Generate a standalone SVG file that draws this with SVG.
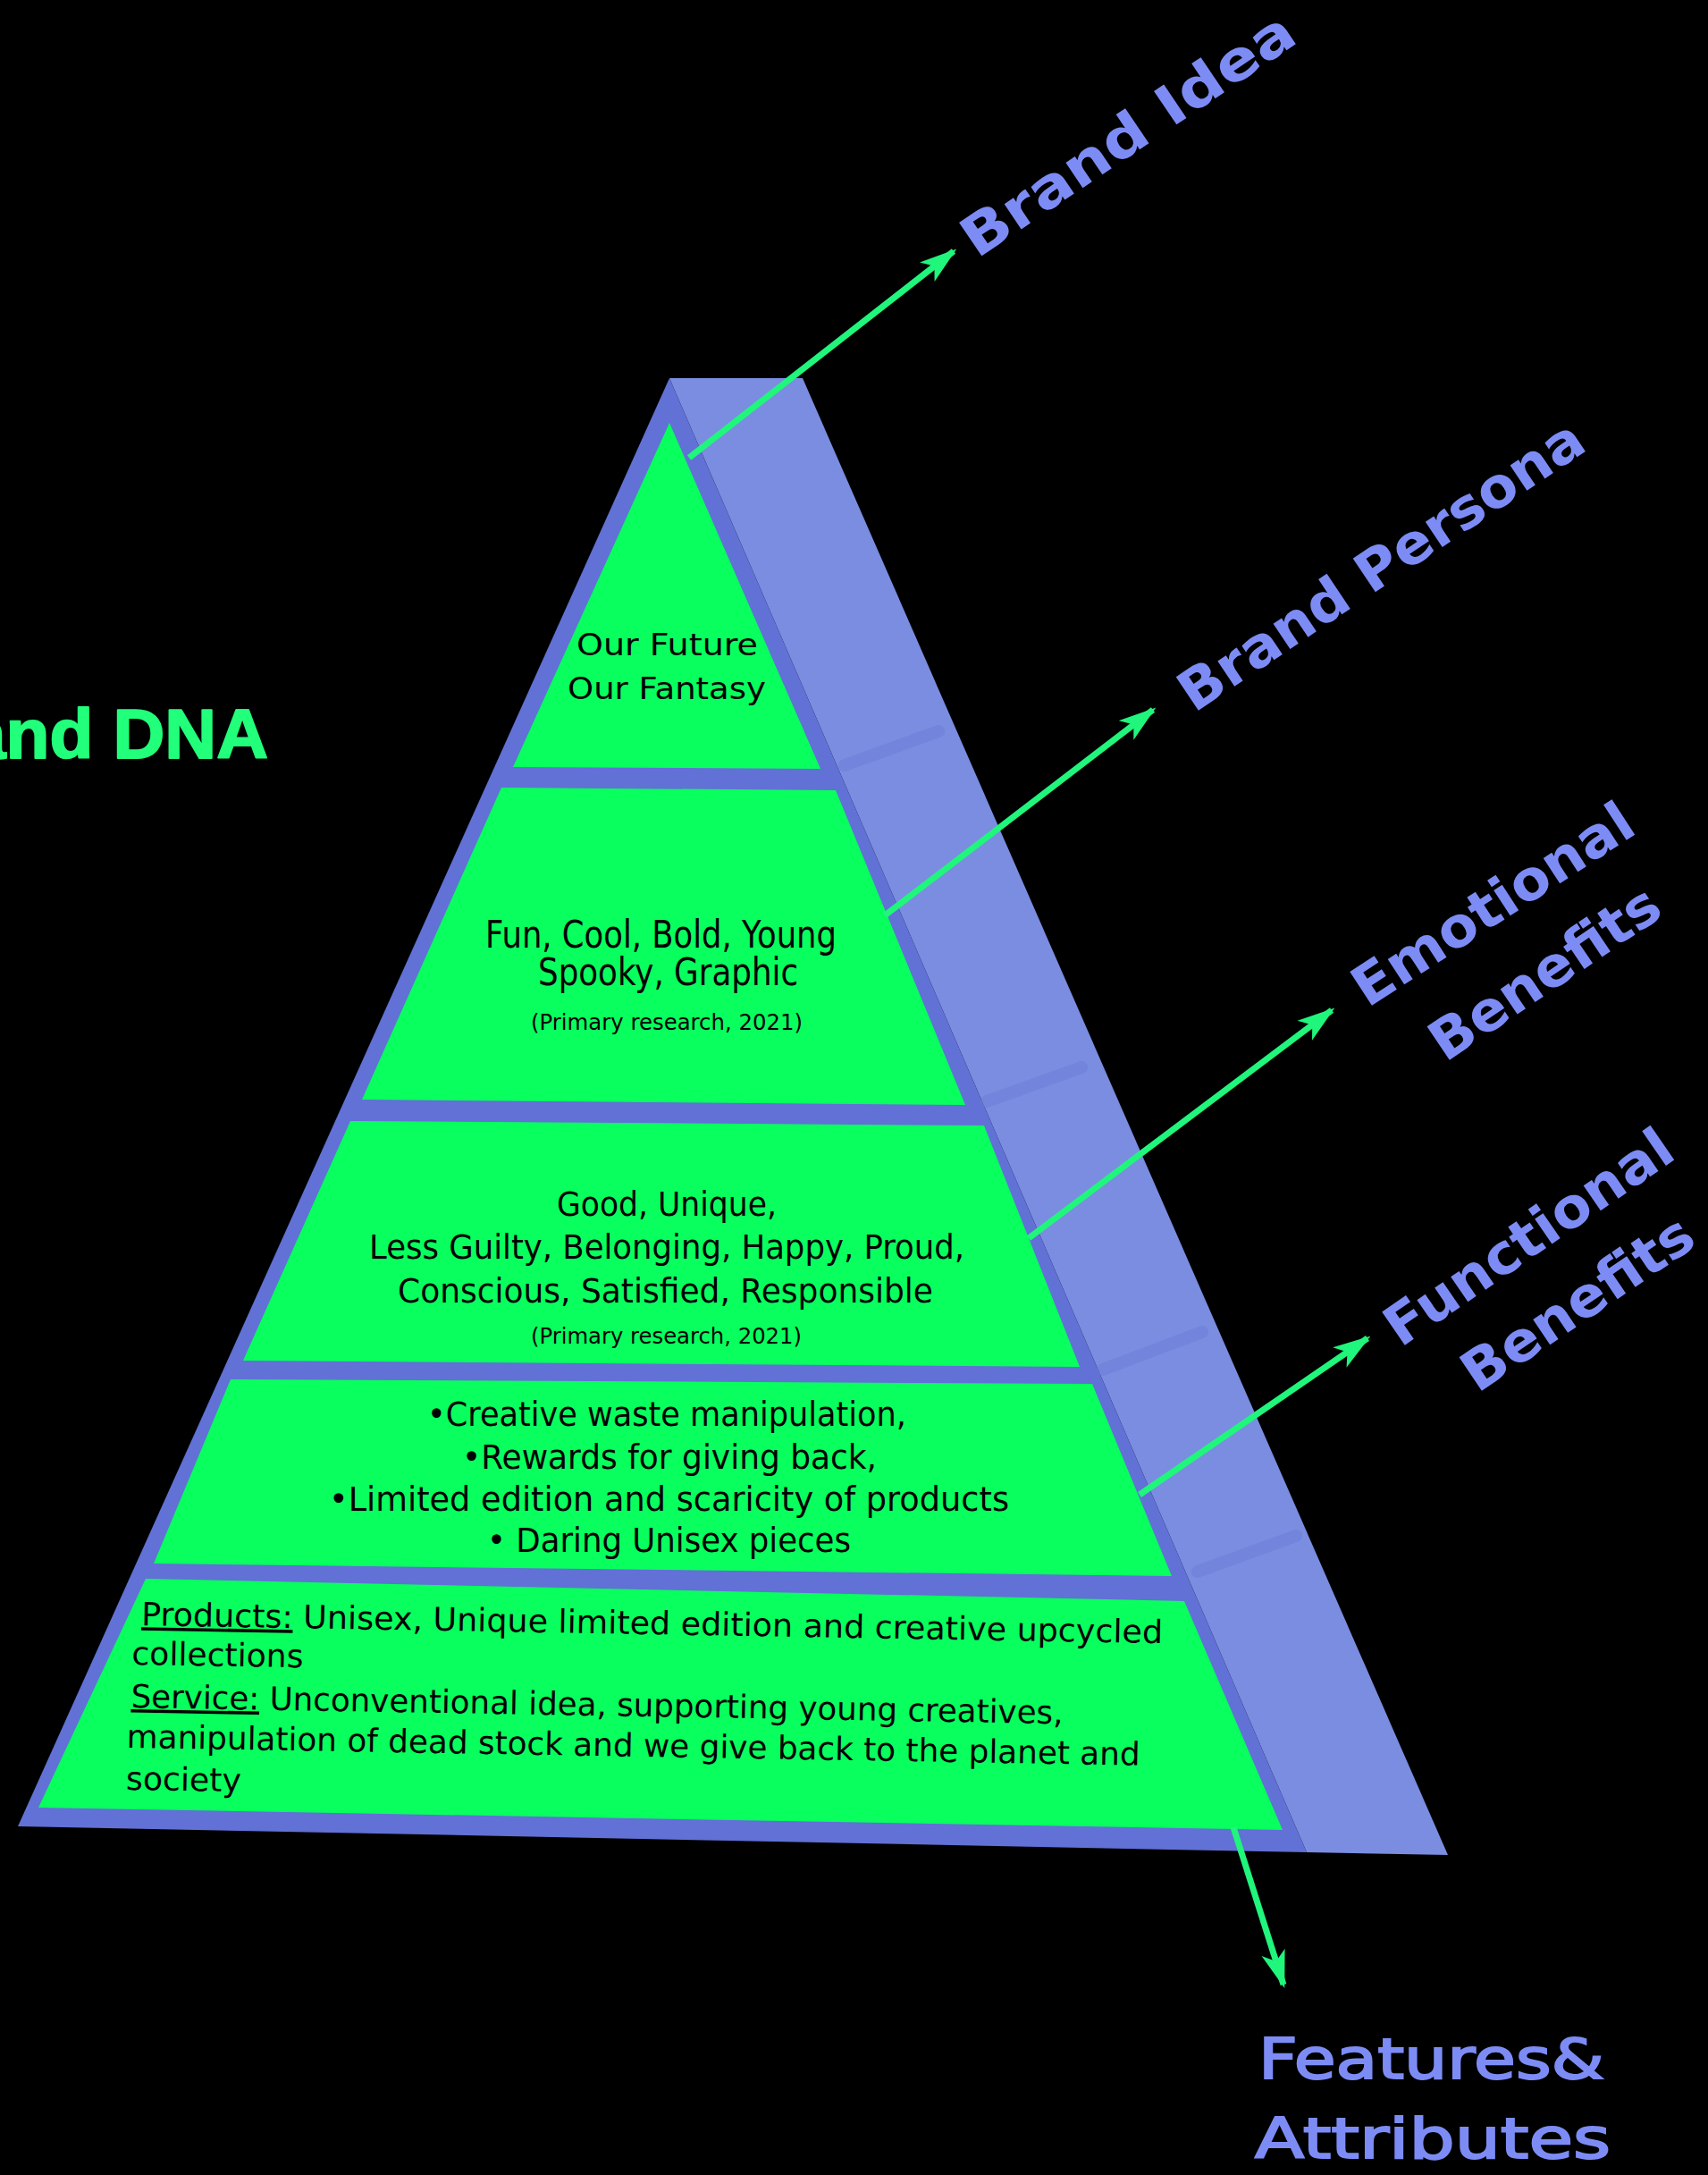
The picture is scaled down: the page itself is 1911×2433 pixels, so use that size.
<svg xmlns="http://www.w3.org/2000/svg" width="1911" height="2433" viewBox="0 0 1911 2433">
<defs>
<style>
.tier{fill:#08FF5E;}
.in{font-family:"DejaVu Sans","Liberation Sans",sans-serif;fill:#000;}
.lbl{font-family:"DejaVu Sans","Liberation Sans",sans-serif;fill:#7D8CF5;font-size:62px;font-weight:bold;}
.con{stroke:#20F57C;stroke-width:7;fill:none;marker-end:url(#ah);}
.bev{stroke:#6A7BD6;stroke-width:14;opacity:0.45;stroke-linecap:round;}
</style>
<marker id="ah" viewBox="0 0 40 26" refX="36" refY="13" markerWidth="42" markerHeight="28" markerUnits="userSpaceOnUse" orient="auto">
<path d="M0,0 L40,13 L0,26 L10,13 Z" fill="#20F57C"/>
</marker>
</defs>
<rect x="0" y="0" width="1911" height="2433" fill="#000"/>

<text id="title" x="-38" y="848" font-family="Liberation Sans,Arial,sans-serif" font-weight="bold" font-size="78" fill="#22FF7A" stroke="#22FF7A" stroke-width="2" stroke-linejoin="round" textLength="338" lengthAdjust="spacingAndGlyphs">and DNA</text>

<g id="pyramid">
<polygon points="749,423 898,423 1620,2075 1462,2072" fill="#7A8DE0"/>
<polygon points="749,423 1462,2072 20,2043" fill="#6171D5"/>
<line class="bev" x1="945" y1="856" x2="1050" y2="818"/>
<line class="bev" x1="1104" y1="1232" x2="1210" y2="1194"/>
<line class="bev" x1="1234" y1="1532" x2="1345" y2="1490"/>
<line class="bev" x1="1340" y1="1758" x2="1450" y2="1718"/>
</g>

<g id="tier1">
<polygon class="tier" points="749,473 918,860 574,858"/>
<text class="in" font-size="34" x="645" y="733" textLength="203" lengthAdjust="spacingAndGlyphs">Our Future</text>
<text class="in" font-size="34" x="635" y="782" textLength="222" lengthAdjust="spacingAndGlyphs">Our Fantasy</text>
</g>

<g id="tier2">
<polygon class="tier" points="561,881 935,884 1080,1236 405,1230"/>
<text class="in" font-size="42" x="543" y="1060" textLength="393" lengthAdjust="spacingAndGlyphs">Fun, Cool, Bold, Young</text>
<text class="in" font-size="42" x="602" y="1102" textLength="291" lengthAdjust="spacingAndGlyphs">Spooky, Graphic</text>
<text class="in" font-size="24" x="594" y="1152" textLength="304" lengthAdjust="spacingAndGlyphs">(Primary research, 2021)</text>
</g>

<g id="tier3">
<polygon class="tier" points="392,1254 1101,1259 1208,1529 272,1522"/>
<text class="in" font-size="37" x="623" y="1360" textLength="246" lengthAdjust="spacingAndGlyphs">Good, Unique,</text>
<text class="in" font-size="37" x="413" y="1408" textLength="666" lengthAdjust="spacingAndGlyphs">Less Guilty, Belonging, Happy, Proud,</text>
<text class="in" font-size="37" x="445" y="1457" textLength="599" lengthAdjust="spacingAndGlyphs">Conscious, Satisfied, Responsible</text>
<text class="in" font-size="24" x="594" y="1503" textLength="303" lengthAdjust="spacingAndGlyphs">(Primary research, 2021)</text>
</g>

<g id="tier4">
<polygon class="tier" points="258,1543 1222,1548 1311,1763 172,1749"/>
<text class="in" font-size="37" x="478" y="1595" textLength="536" lengthAdjust="spacingAndGlyphs">•Creative waste manipulation,</text>
<text class="in" font-size="37" x="517" y="1643" textLength="464" lengthAdjust="spacingAndGlyphs">•Rewards for giving back,</text>
<text class="in" font-size="37" x="368" y="1690" textLength="761" lengthAdjust="spacingAndGlyphs">•Limited edition and scaricity of products</text>
<text class="in" font-size="37" x="545" y="1736" textLength="407" lengthAdjust="spacingAndGlyphs">• Daring Unisex pieces</text>
</g>

<g id="tier5">
<polygon class="tier" points="163,1766 1325,1791 1435,2047 43,2022"/>
<g transform="rotate(1 148 1818)">
<text class="in" font-size="36" x="158" y="1818" textLength="1143" lengthAdjust="spacingAndGlyphs"><tspan text-decoration="underline">Products:</tspan> Unisex, Unique limited edition and creative upcycled</text>
<text class="in" font-size="36" x="148" y="1862" textLength="192" lengthAdjust="spacingAndGlyphs">collections</text>
<text class="in" font-size="36" x="148" y="1910" textLength="1043" lengthAdjust="spacingAndGlyphs"><tspan text-decoration="underline">Service:</tspan> Unconventional idea, supporting young creatives,</text>
<text class="in" font-size="36" x="144" y="1955" textLength="1134" lengthAdjust="spacingAndGlyphs">manipulation of dead stock and we give back to the planet and</text>
<text class="in" font-size="36" x="144" y="2002" textLength="129" lengthAdjust="spacingAndGlyphs">society</text>
</g>
</g>

<g id="connectors">
<line class="con" x1="771" y1="512" x2="1067" y2="281"/>
<line class="con" x1="990" y1="1024" x2="1290" y2="794"/>
<line class="con" x1="1151" y1="1385" x2="1490" y2="1130"/>
<line class="con" x1="1275" y1="1672" x2="1530" y2="1497"/>
<line class="con" x1="1380" y1="2044" x2="1436" y2="2220"/>
</g>

<g id="label-brand-idea">
<text class="lbl" transform="translate(1093 290) rotate(-34)" textLength="436" lengthAdjust="spacingAndGlyphs">Brand Idea</text>
</g>
<g id="label-brand-persona">
<text class="lbl" transform="translate(1336 798) rotate(-33.8)" textLength="532" lengthAdjust="spacingAndGlyphs">Brand Persona</text>
</g>
<g id="label-emotional">
<text class="lbl" transform="translate(1530 1128) rotate(-33)" textLength="362" lengthAdjust="spacingAndGlyphs">Emotional</text>
<text class="lbl" transform="translate(1617 1189) rotate(-34)" textLength="297" lengthAdjust="spacingAndGlyphs">Benefits</text>
</g>
<g id="label-functional">
<text class="lbl" transform="translate(1567 1508) rotate(-34.5)" textLength="377" lengthAdjust="spacingAndGlyphs">Functional</text>
<text class="lbl" transform="translate(1653 1559) rotate(-34)" textLength="299" lengthAdjust="spacingAndGlyphs">Benefits</text>
</g>
<g id="label-features">
<text class="lbl" font-size="76" font-weight="normal" x="1408" y="2325" textLength="387" lengthAdjust="spacingAndGlyphs" style="font-weight:normal" stroke="#7D8CF5" stroke-width="2">Features&amp;</text>
<text class="lbl" font-size="76" x="1404" y="2414" textLength="398" lengthAdjust="spacingAndGlyphs" style="font-weight:normal" stroke="#7D8CF5" stroke-width="2">Attributes</text>
</g>
</svg>
